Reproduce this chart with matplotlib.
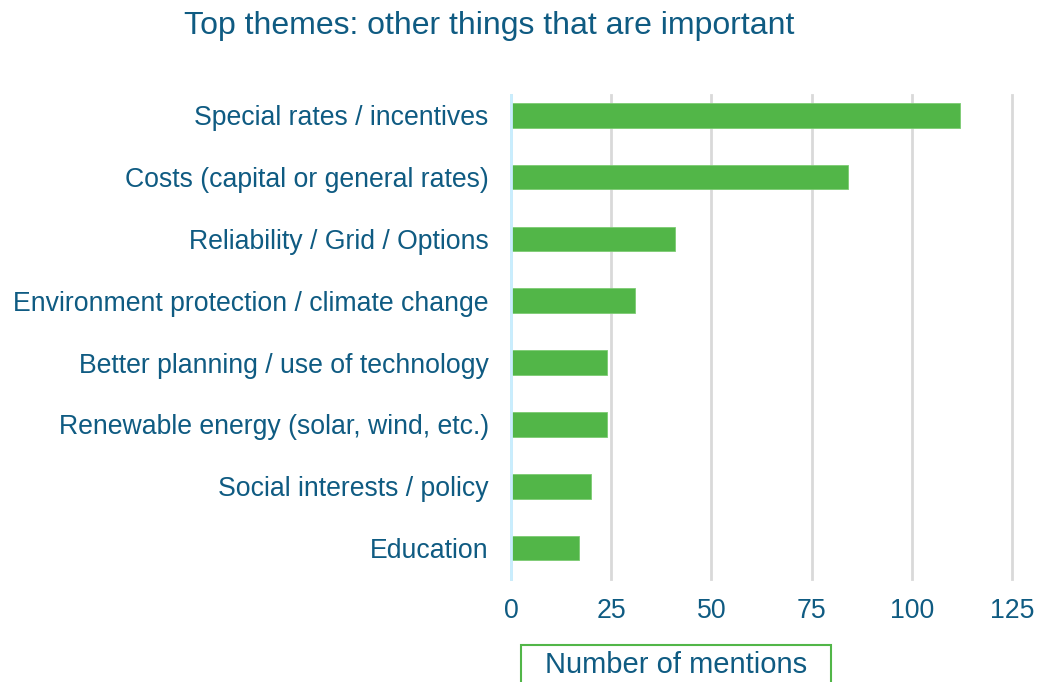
import matplotlib
matplotlib.use("Agg")
import matplotlib.pyplot as plt
from matplotlib.patches import Rectangle

categories = [
    "Special rates / incentives",
    "Costs (capital or general rates)",
    "Reliability / Grid / Options",
    "Environment protection / climate change",
    "Better planning / use of technology",
    "Renewable energy (solar, wind, etc.)",
    "Social interests / policy",
    "Education",
]
mentions = [112, 84, 41, 31, 24, 24, 20, 17]
x_ticks = [0, 25, 50, 75, 100, 125]

TEXT = "#0F5B82"
GREEN = "#52B648"

plt.rcParams["font.family"] = ["Liberation Sans", "DejaVu Sans"]

fig = plt.figure(figsize=(10.4, 6.82), dpi=100)
ax = fig.add_axes([0.4913, 0.151, 0.4817, 0.710])

pos = list(range(len(categories)))
ax.barh(pos, mentions, height=0.4, color=GREEN, edgecolor="#7CCB73", linewidth=0.6, zorder=3)

ax.set_xlim(0, 125)
ax.set_ylim(len(categories) - 0.5, -0.33)
ax.set_yticks(pos)
ax.set_yticklabels(categories)
ax.set_xticks(x_ticks)
ax.set_xticklabels([str(t) for t in x_ticks])
ax.tick_params(axis="y", length=0, pad=16, labelsize=19.2, labelcolor=TEXT)
ax.tick_params(axis="x", length=0, pad=14, labelsize=19.2, labelcolor=TEXT)

ax.grid(axis="x", color="#D9D9D9", linewidth=2, zorder=0)
ax.grid(axis="y", visible=False)
for gl in ax.xaxis.get_gridlines():
    gl.set_clip_on(False)
for s in ["top", "right", "bottom"]:
    ax.spines[s].set_visible(False)
ax.spines["left"].set_color("#C8EEFF")
ax.spines["left"].set_linewidth(2)
ax.spines["left"].set_zorder(4)

fig.text(0.470, 0.962, "Top themes: other things that are important",
         ha="center", va="center", fontsize=23, color=TEXT)

# x-axis title inside a green box that runs off the bottom edge
fig.patches.append(Rectangle((521 / 1040, -0.05), 310 / 1040, 1 - 645 / 682 + 0.05,
                             transform=fig.transFigure, fill=False,
                             edgecolor=GREEN, linewidth=1.5))
fig.text(676 / 1040, 1 - 665 / 682, "Number of mentions",
         ha="center", va="center", fontsize=21, color=TEXT)

fig.savefig("out.png", dpi=100)
